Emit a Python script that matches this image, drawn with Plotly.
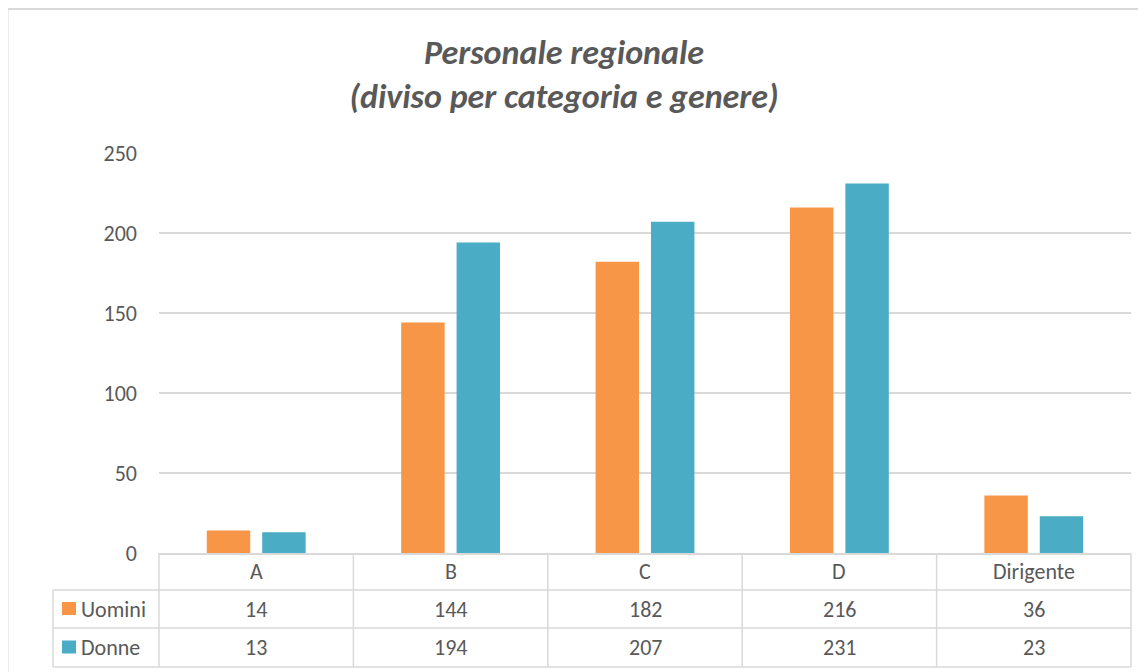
import plotly.graph_objects as go

categories = ["A", "B", "C", "D", "Dirigente"]
uomini = [14, 144, 182, 216, 36]
donne = [13, 194, 207, 231, 23]
series_names = ["Uomini", "Donne"]
series_colors = ["#F79646", "#4BACC6"]
y_ticks = [0, 50, 100, 150, 200, 250]

# the page body has an 8px margin; all pixel positions below are window pixels
OFF = 8
W_FIG, H_FIG = 1146 - OFF, 672 - OFF
PLOT_L, PLOT_R, PLOT_T, PLOT_B = 159, 1131, 153, 553  # window px
L = PLOT_L - OFF
R = W_FIG - (PLOT_R - OFF)
T = PLOT_T - OFF
B = H_FIG - (PLOT_B - OFF)
PW = PLOT_R - PLOT_L
PH = PLOT_B - PLOT_T

def px(xw):
    return (xw - PLOT_L) / PW

def py(yw):
    return (PLOT_B - yw) / PH

FONT = "Calibri, Carlito, Lato, sans-serif"
TXT = "#595959"
GRID = "#D9D9D9"

fig = go.Figure()
for name, vals, col in zip(series_names, [uomini, donne], series_colors):
    fig.add_trace(go.Bar(x=categories, y=vals, name=name, marker=dict(color=col, line=dict(width=0))))

shapes = []
line = dict(color=GRID, width=1.5)
n = len(categories)
header_bottom = 590
row_bottoms = [628, 667]
left_px = 53
for yy in [header_bottom] + row_bottoms:
    shapes.append(dict(type="line", xref="paper", yref="paper", x0=px(left_px), x1=1, y0=py(yy), y1=py(yy), line=line))
for i in range(n + 1):
    shapes.append(dict(type="line", xref="paper", yref="paper", x0=i / n, x1=i / n, y0=0, y1=py(row_bottoms[-1]), line=line))
shapes.append(dict(type="line", xref="paper", yref="paper", x0=px(left_px), x1=px(left_px), y0=py(header_bottom), y1=py(row_bottoms[-1]), line=line))
row_tops = [header_bottom] + row_bottoms[:-1]
for rt, rb, col in zip(row_tops, row_bottoms, series_colors):
    cy = (rt + rb) / 2
    shapes.append(dict(type="rect", xref="paper", yref="paper", x0=px(62), x1=px(76), y0=py(cy - 7), y1=py(cy + 6), fillcolor=col, line=dict(width=0)))
shapes.append(dict(type="rect", xref="paper", yref="paper", x0=px(7.5), x1=px(1160), y0=py(690), y1=py(9), line=dict(color=GRID, width=2), fillcolor="rgba(0,0,0,0)", layer="below"))

annotations = []
tf = dict(family=FONT, size=22, color=TXT)
hy = (PLOT_B + header_bottom) / 2
for c in categories:
    annotations.append(dict(x=c, xref="x", y=py(hy), yref="paper", text=c, showarrow=False, font=tf, xanchor="center", yanchor="middle"))
for rt, rb, name, vals in zip(row_tops, row_bottoms, series_names, [uomini, donne]):
    cy = (rt + rb) / 2
    annotations.append(dict(x=px(79), xref="paper", y=py(cy), yref="paper", text=name, showarrow=False, font=tf, xanchor="left", yanchor="middle"))
    for c, v in zip(categories, vals):
        annotations.append(dict(x=c, xref="x", y=py(cy), yref="paper", text=str(v), showarrow=False, font=tf, xanchor="center", yanchor="middle"))

fig.update_layout(
    width=W_FIG, height=H_FIG,
    margin=dict(l=L, r=R, t=T, b=B),
    paper_bgcolor="white", plot_bgcolor="white",
    title=dict(text="<b><i>Personale regionale<br>(diviso per categoria e genere)</i></b>",
               x=(564 - OFF) / W_FIG, xref="container", xanchor="center",
               y=1 - (64 - OFF) / H_FIG, yref="container", yanchor="middle",
               font=dict(family=FONT, size=34, color=TXT)),
    showlegend=False,
    barmode="group", bargap=0.43, bargroupgap=0.216,
    xaxis=dict(showticklabels=False, showgrid=False, showline=True, linecolor=GRID, linewidth=1.5,
               ticks="", range=[-0.5, n - 0.5], fixedrange=True),
    yaxis=dict(range=[0, 250], tickvals=y_ticks, showgrid=True, gridcolor=GRID, gridwidth=1.5,
               zeroline=False, showline=False, ticks="", ticklabelstandoff=21,
               tickfont=dict(family=FONT, size=22, color=TXT)),
    shapes=shapes, annotations=annotations,
    font=dict(family=FONT, color=TXT),
)
fig.write_html("out.html")
